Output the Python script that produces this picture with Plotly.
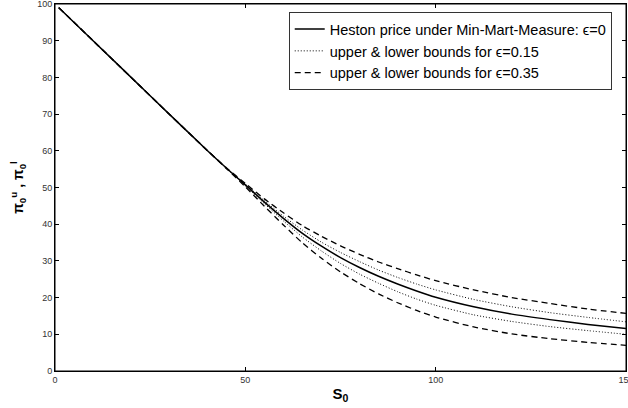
import plotly.graph_objects as go

S0 = [1, 10, 20, 30, 40, 45, 50, 55, 60, 65, 70, 75, 80, 85, 90, 95, 100, 110, 120, 130, 140, 150]

heston = [99.0, 90.0, 80.0, 70.0, 60.1, 55.3, 50.7, 46.0, 41.6, 37.5, 34.0, 30.9, 28.2, 25.8,
          23.7, 21.8, 20.1, 17.5, 15.5, 14.0, 12.7, 11.6]

upper_015 = [99.0, 90.0, 80.0, 70.0, 60.1, 55.3, 50.9, 46.4, 42.2, 38.4, 35.1, 32.3, 29.8, 27.5,
             25.5, 23.7, 22.1, 19.5, 17.5, 15.9, 14.6, 13.4]
lower_015 = [99.0, 90.0, 80.0, 70.0, 60.1, 55.3, 50.5, 45.6, 40.9, 36.5, 32.7, 29.3, 26.4, 23.9,
             21.6, 19.6, 17.9, 15.3, 13.5, 12.1, 11.0, 10.0]

upper_035 = [99.0, 90.0, 80.0, 70.0, 60.1, 55.4, 51.1, 46.9, 43.1, 39.6, 36.7, 34.1, 31.8, 29.7,
             27.9, 26.2, 24.6, 22.1, 20.0, 18.4, 16.9, 15.7]
lower_035 = [99.0, 90.0, 80.0, 70.0, 60.1, 55.2, 50.2, 44.9, 39.8, 34.9, 30.7, 27.0, 23.8, 21.0,
             18.6, 16.5, 14.7, 12.0, 10.1, 8.8, 7.8, 7.0]

x_ticks = [0, 50, 100, 150]
y_ticks = [0, 10, 20, 30, 40, 50, 60, 70, 80, 90, 100]

names = ["Heston price under Min-Mart-Measure: ϵ=0",
         "upper & lower bounds for ϵ=0.15",
         "upper & lower bounds for ϵ=0.35"]

DOT = "1px,2px"
DASH = "6px,4px"

fig = go.Figure()
line_kw = dict(shape="spline", smoothing=0.6)
fig.add_trace(go.Scatter(x=S0, y=heston, mode="lines", name=names[0], legendgroup="a",
                         line=dict(color="black", width=1.5, **line_kw)))
fig.add_trace(go.Scatter(x=S0, y=upper_015, mode="lines", name=names[1], legendgroup="b",
                         line=dict(color="black", width=1, dash=DOT, **line_kw)))
fig.add_trace(go.Scatter(x=S0, y=lower_015, mode="lines", name=names[1], legendgroup="b",
                         showlegend=False,
                         line=dict(color="black", width=1, dash=DOT, **line_kw)))
fig.add_trace(go.Scatter(x=S0, y=upper_035, mode="lines", name=names[2], legendgroup="c",
                         line=dict(color="black", width=1.3, dash=DASH, **line_kw)))
fig.add_trace(go.Scatter(x=S0, y=lower_035, mode="lines", name=names[2], legendgroup="c",
                         showlegend=False,
                         line=dict(color="black", width=1.3, dash=DASH, **line_kw)))

axis_common = dict(showline=True, linecolor="black", linewidth=1, mirror="allticks",
                   ticks="inside", ticklen=4, tickcolor="black", showgrid=False,
                   zeroline=False, ticklabeloverflow="allow", automargin=False,
                   tickfont=dict(family="Liberation Sans, Arial", size=9, color="#333333"))

fig.update_layout(
    width=628, height=408,
    margin=dict(l=55, r=2, t=4, b=37),
    plot_bgcolor="white", paper_bgcolor="white",
    font=dict(family="Liberation Sans, Arial", color="black"),
    xaxis=dict(range=[0, 150], tickvals=x_ticks, ticktext=[str(v) for v in x_ticks],
               title=dict(text="<b>S<sub>0</sub></b>", font=dict(size=15), standoff=4),
               **axis_common),
    yaxis=dict(range=[0, 100], tickvals=y_ticks, ticktext=[str(v) for v in y_ticks],
               title=dict(text="<b>π<sub>0</sub><sup>u</sup> , π<sub>0</sub><sup>l</sup></b>",
                          font=dict(size=14), standoff=10),
               **axis_common),
    legend=dict(x=0.975, y=0.978, xanchor="right", yanchor="top", bgcolor="white",
                bordercolor="#333333", borderwidth=1,
                font=dict(family="Liberation Sans, Arial", size=14.5),
                tracegroupgap=0, itemwidth=30),
    showlegend=True,
    shapes=[dict(type="rect", xref="paper", yref="paper", x0=0, y0=0, x1=1, y1=1,
                 line=dict(color="black", width=1), layer="above")],
)

fig.write_html("out.html", config={"displayModeBar": False},
               post_script="document.body.style.margin='0';document.body.style.padding='0';")
